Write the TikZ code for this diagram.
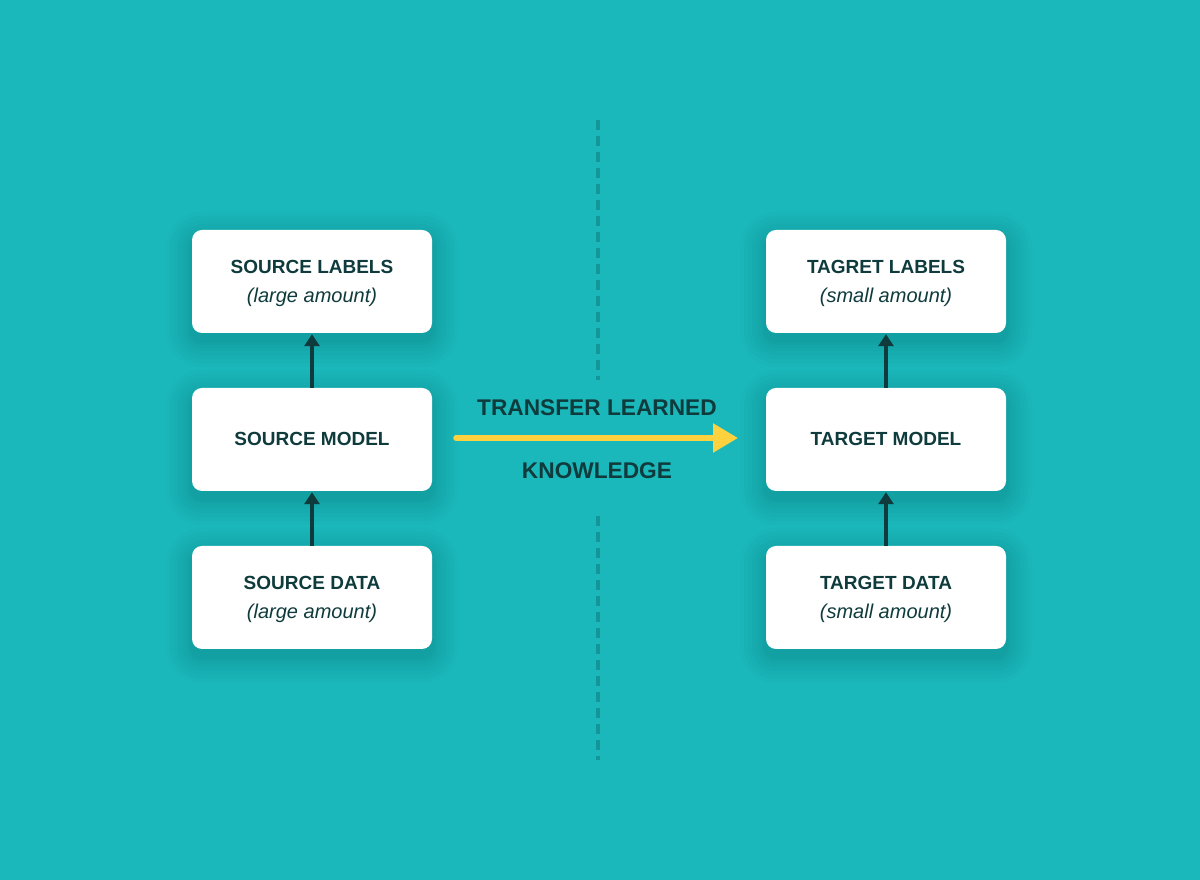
\documentclass[tikz,border=0pt]{standalone}
\usepackage{fontspec}
\setmainfont{Liberation Sans}
\usetikzlibrary{arrows.meta,calc}
\definecolor{bg}{HTML}{1AB8BB}
\definecolor{ink}{HTML}{0F3B3D}
\definecolor{dashc}{HTML}{12969A}
\definecolor{arrowy}{HTML}{FDD23E}
\tikzset{
  box/.style={draw=none, fill=white, rounded corners=10pt, minimum width=240pt, minimum height=103pt, inner sep=0pt},
  ttl/.style={font=\fontsize{19}{21}\selectfont\bfseries, text=ink},
  sub/.style={font=\fontsize{20}{22}\selectfont\itshape, text=ink},
  bigt/.style={font=\fontsize{22.7}{25}\selectfont\bfseries, text=ink},
  uparrow/.style={draw=ink, line width=3.2pt, -{Triangle[length=12pt,width=15pt]}},
  dashline/.style={draw=dashc, line width=3.5pt, dash pattern=on 10pt off 6pt},
}
\newcommand{\softshadow}[2]{%
  \foreach \g in {26,22,18,14,10,7,4,2}{%
    \fill[black, opacity=0.014, rounded corners=10pt+\g pt]
      ($(#1,#2)+(-120-\g,-51.5-\g-8)$) rectangle ($(#1,#2)+(120+\g,51.5+\g-8)$);
  }%
}
\begin{document}
\begin{tikzpicture}[x=1pt,y=1pt]
\fill[bg] (0,0) rectangle (1200,880);
\useasboundingbox (0,0) rectangle (1200,880);
% shadows
\softshadow{312}{598.5}
\softshadow{312}{440.5}
\softshadow{312}{282.5}
\softshadow{886}{598.5}
\softshadow{886}{440.5}
\softshadow{886}{282.5}
% dashed divider
\coordinate (d1) at (598,760);
\coordinate (d2) at (598,500);
\coordinate (d3) at (598,364);
\coordinate (d4) at (598,120);
\draw[dashline] (d1) -- (d2);
\draw[dashline] (d3) -- (d4);
% left column
\node[box] (sl) at (312,598.5) {};
\node[ttl] at (312,613) {SOURCE LABELS};
\node[sub] at (312,583) {(large amount)};
\node[box] (sm) at (312,440.5) {};
\node[ttl] at (312,441) {SOURCE MODEL};
\node[box] (sd) at (312,282.5) {};
\node[ttl] at (312,297) {SOURCE DATA};
\node[sub] at (312,267) {(large amount)};
% right column
\node[box] (tl) at (886,598.5) {};
\node[ttl] at (886,613) {TAGRET LABELS};
\node[sub] at (886,583) {(small amount)};
\node[box] (tm) at (886,440.5) {};
\node[ttl] at (886,441) {TARGET MODEL};
\node[box] (td) at (886,282.5) {};
\node[ttl] at (886,297) {TARGET DATA};
\node[sub] at (886,267) {(small amount)};
% vertical arrows
\draw[uparrow] (sd.north) -- ([yshift=-1pt]sm.south);
\draw[uparrow] (sm.north) -- ([yshift=-1pt]sl.south);
\draw[uparrow] (td.north) -- ([yshift=-1pt]tm.south);
\draw[uparrow] (tm.north) -- ([yshift=-1pt]tl.south);
% transfer arrow
\coordinate (a1) at (456,442);
\coordinate (a2) at (738,442);
\draw[draw=arrowy, line width=5.5pt, line cap=round, -{Triangle[length=25pt,width=28pt]}] (a1) -- (a2);
\node[bigt] (tt) at (597,472) {TRANSFER LEARNED};
\node[bigt] (tk) at (597,409) {KNOWLEDGE};
\end{tikzpicture}
\end{document}
